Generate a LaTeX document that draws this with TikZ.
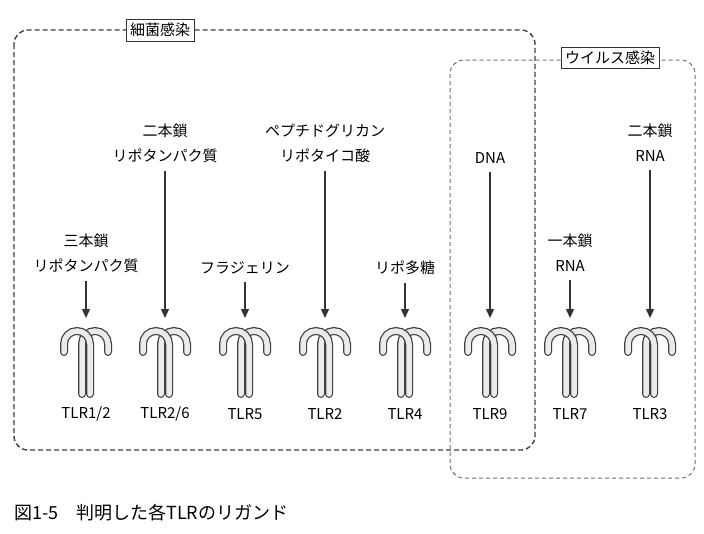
\documentclass[tikz,border=0pt]{standalone}
\usepackage{fontspec}
\setmainfont{Noto Sans CJK JP}
\usetikzlibrary{arrows.meta}
\begin{document}
\begin{tikzpicture}[x=1pt,y=-1pt,
  lbl/.style={font=\fontsize{15}{17}\selectfont, align=center, inner sep=0pt},
  arr/.style={-{Triangle[length=9pt,width=8pt]}, line width=1.4pt, draw=black!80},
  hookout/.style={line width=8pt, draw=black!75, line cap=round},
  hookin/.style={line width=5.5pt, draw=black!8, line cap=round},
  pics/tlr/.style={code={
    \draw[hookout] (-4,72) -- (-4,22) arc[start angle=180, delta angle=180, radius=13] -- ++(0,8);
    \draw[hookin] (-4,72) -- (-4,22) arc[start angle=180, delta angle=180, radius=13] -- ++(0,8);
    \draw[hookout] (4,72) -- (4,22) arc[start angle=0, delta angle=-180, radius=13] -- ++(0,8);
    \draw[hookin] (4,72) -- (4,22) arc[start angle=0, delta angle=-180, radius=13] -- ++(0,8);
  }}]
\useasboundingbox (0,0) rectangle (704,533);
\fill[white] (0,0) rectangle (704,533);
\draw[line width=1.4pt, draw=black!75, dash pattern=on 5pt off 3pt, rounded corners=14pt] (14,30) rectangle (535,450);
\draw[line width=1pt, draw=black!55, dash pattern=on 4pt off 3pt, rounded corners=14pt] (450,60) rectangle (695,478);
\node[lbl, draw=black!80, fill=white, line width=0.9pt, inner sep=4pt] (bact) at (160,30) {細菌感染};
\node[lbl, draw=black!80, fill=white, line width=0.9pt, inner sep=4pt] (vir) at (610,58) {ウイルス感染};
\node[lbl] (l1) at (86,253) {三本鎖\\[8pt]リポタンパク質};
\node[lbl] (l2) at (165,143) {二本鎖\\[8pt]リポタンパク質};
\node[lbl] (l3) at (245,268) {フラジェリン};
\node[lbl] (l4) at (325,143) {ペプチドグリカン\\[8pt]リポタイコ酸};
\node[lbl] (l5) at (405,268) {リポ多糖};
\node[lbl] (l6) at (490,158) {DNA};
\node[lbl] (l7) at (570,253) {一本鎖\\[8pt]RNA};
\node[lbl] (l8) at (650,143) {二本鎖\\[8pt]RNA};
\foreach \x/\n/\t in {86/1/{TLR1/2},165/2/{TLR2/6},245/3/TLR5,325/4/TLR2,405/5/TLR4,490/6/TLR9,570/7/TLR7,650/8/TLR3}{
  \pic at (\x,322) {tlr};
  \coordinate (r\n) at (\x,318);
  \node[lbl] (t\n) at (\x,414) {\t};
}
\foreach \n in {1,...,8}{ \draw[arr] ([yshift=-8pt]l\n.south) -- (r\n); }
\node[font=\fontsize{18}{20}\selectfont, anchor=west, inner sep=0pt] (cap) at (14,513) {図1-5\quad 判明した各TLRのリガンド};
\end{tikzpicture}
\end{document}
